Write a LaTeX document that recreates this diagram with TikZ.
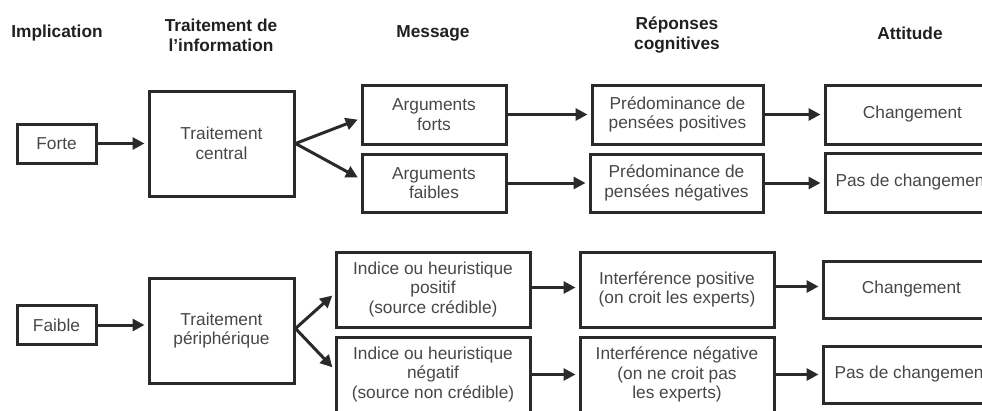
\documentclass[tikz,border=0pt]{standalone}
\usepackage{fontspec}
\setmainfont{Liberation Sans}
\usetikzlibrary{arrows.meta}
\definecolor{boxline}{HTML}{2A2A2A}
\definecolor{boxtext}{HTML}{474747}
\definecolor{headtext}{HTML}{202020}
\begin{document}
\begin{tikzpicture}[x=1pt,y=-1pt,
  box/.style={draw=boxline,line width=3pt,align=center,text=boxtext,
    font=\fontsize{17.3}{19.5}\selectfont,inner sep=0pt,
    minimum width=#1},
  box/.default=144pt,
  head/.style={align=center,text=headtext,font=\fontsize{17.3}{20}\selectfont\bfseries},
  arr/.style={draw=boxline,line width=3pt,-{Triangle[length=12pt,width=12pt]},shorten >=3pt}]
\clip (0,0) rectangle (982,410);
% headers
\node[head] (h1) at (57,33) {Implication};
\node[head] (h2) at (221,35) {Traitement de\\l’information};
\node[head] (h3) at (433,33) {Message};
\node[head] (h4) at (677,35) {Réponses\\cognitives};
\node[head] (h5) at (910,33) {Attitude};
% top row
\node[box=79pt,minimum height=39pt] (forte) at (56.5,143.5) {Forte};
\node[box=145pt,minimum height=105pt] (tc) at (221.5,143.5) {Traitement\\central};
\node[box=144pt,minimum height=59pt] (argf) at (434,114.5) {Arguments\\forts};
\node[box=144pt,minimum height=58pt] (argw) at (434,183) {Arguments\\faibles};
\node[box=171pt,minimum height=59pt] (pp) at (677.5,114.5) {Prédominance de\\pensées positives};
\node[box=173pt,minimum height=58pt] (pn) at (676.5,183) {Prédominance de\\pensées négatives};
\node[box=175pt,minimum height=59pt] (ch1) at (912.5,114.5) {Changement};
\node[box=175pt,minimum height=59pt] (pc1) at (912.5,182.5) {Pas de changement};
% bottom row
\node[box=79pt,minimum height=39pt] (faible) at (56.5,325) {Faible};
\node[box=145pt,minimum height=105pt] (tp) at (221.5,330.5) {Traitement\\périphérique};
\node[box=194pt,minimum height=75pt] (ip) at (433,289.5) {Indice ou heuristique\\positif\\(source crédible)};
\node[box=194pt,minimum height=75pt] (in) at (433,374.5) {Indice ou heuristique\\négatif\\(source non crédible)};
\node[box=194pt,minimum height=75pt] (ifp) at (677,289.5) {Interférence positive\\(on croit les experts)};
\node[box=194pt,minimum height=75pt] (ifn) at (677,374.5) {Interférence négative\\(on ne croit pas\\les experts)};
\node[box=177pt,minimum height=57pt] (ch2) at (911.5,289.5) {Changement};
\node[box=177pt,minimum height=57pt] (pc2) at (911.5,374.5) {Pas de changement};
% arrows top
\draw[arr] (forte.east) -- (tc.west |- forte.east);
\draw[arr] (tc.east) -- ([yshift=-4pt]argf.west);
\draw[arr] (tc.east) -- ([yshift=4pt]argw.west);
\draw[arr] (argf.east) -- (pp.west);
\draw[arr] (argw.east) -- (argw.east -| pn.west);
\draw[arr] (pp.east) -- (ch1.west);
\draw[arr] (pn.east) -- (pn.east -| pc1.west);
% arrows bottom
\draw[arr] (faible.east) -- (faible.east -| tp.west);
\draw[arr] ([yshift=2pt]tp.east) -- ([yshift=-4pt]ip.west);
\draw[arr] ([yshift=2pt]tp.east) -- ([yshift=5pt]in.west);
\draw[arr] ([yshift=2pt]ip.east) -- ([yshift=2pt]ifp.west);
\draw[arr] (in.east) -- (ifn.west);
\draw[arr] ([yshift=3pt]ifp.east) -- ([yshift=3pt]ch2.west);
\draw[arr] (ifn.east) -- (pc2.west);
\end{tikzpicture}
\end{document}
